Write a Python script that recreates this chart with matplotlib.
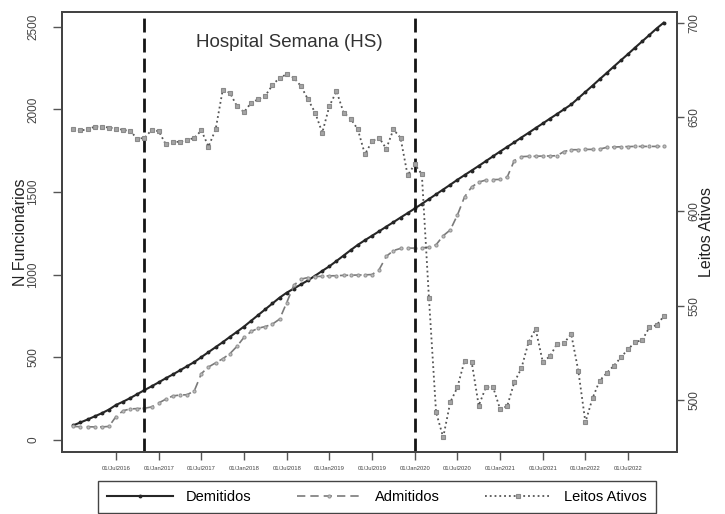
import numpy as np
import matplotlib
matplotlib.use("Agg")
import matplotlib.pyplot as plt

plt.rcParams["font.family"] = ["Liberation Sans", "DejaVu Sans"]

# monthly series, Jan/2016 .. Dec/2022
demitidos = [87, 104, 122, 141, 160, 182, 210, 230, 252, 276,
             300, 323, 347, 372, 395, 420, 445, 470, 500, 530,
             560, 590, 622, 653, 685, 720, 755, 790, 825, 860,
             890, 915, 940, 965, 993, 1022, 1050, 1082, 1115, 1148,
             1180, 1208, 1235, 1262, 1290, 1317, 1345, 1372, 1400, 1428,
             1457, 1486, 1515, 1544, 1574, 1602, 1630, 1658, 1687, 1716,
             1745, 1773, 1801, 1830, 1858, 1887, 1915, 1944, 1972, 2001,
             2030, 2068, 2106, 2144, 2183, 2221, 2260, 2298, 2336, 2375,
             2413, 2451, 2490, 2525]

admitidos = [80, 78, 78, 77, 77, 80, 140, 175, 186, 188,
             190, 198, 222, 245, 265, 270, 272, 295, 400, 440,
             465, 490, 520, 565, 620, 655, 675, 685, 700, 730,
             830, 935, 972, 982, 987, 990, 992, 993, 995, 996,
             997, 998, 1000, 1030, 1110, 1145, 1158, 1160, 1160, 1162,
             1165, 1180, 1235, 1270, 1360, 1470, 1530, 1560, 1572, 1575,
             1576, 1590, 1690, 1714, 1716, 1716, 1718, 1718, 1720, 1745,
             1756, 1756, 1758, 1758, 1760, 1770, 1772, 1774, 1775, 1776,
             1776, 1776, 1776, 1776]

leitos = [644, 643, 643.5, 645, 645, 644.5, 644, 643.3, 642.6, 638.6,
          639, 643.2, 642.6, 635.6, 636.8, 637, 637.9, 639, 643, 634.4,
          643.5, 664.4, 663, 655.9, 652.7, 657.7, 659.5, 661.5, 667, 671,
          672.7, 671, 666.5, 659.4, 652.4, 641.8, 655.9, 663.8, 652.4, 649.2,
          643.5, 630.3, 637.3, 639.1, 633.3, 643.5, 639.1, 619.2, 625, 619.7,
          554, 493.5, 480.2, 498.8, 506.7, 520.8, 520.3, 497, 506.7, 507,
          495.2, 496.7, 509.4, 516.8, 530.6, 537.6, 520.3, 523.1, 529.7, 530.2,
          535, 515.5, 488.2, 500.9, 510.2, 514.3, 518.2, 522.6, 527, 530.6,
          531.9, 538.5, 539.7, 544.3]

month = np.arange(len(demitidos))
tick_months = [6, 12, 18, 24, 30, 36, 42, 48, 54, 60, 66, 72, 78]
tick_labels = ["01/Jul2016", "01/Jan2017", "01/Jul2017", "01/Jan2018",
               "01/Jul2018", "01/Jan2019", "01/Jul2019", "01/Jan2020",
               "01/Jul2020", "01/Jan2021", "01/Jul2021", "01/Jan2022",
               "01/Jul2022"]
event_months = [9.9, 48]

fig = plt.figure(figsize=(7.25, 5.14), dpi=100)
ax = fig.add_axes([0.0855, 0.1206, 0.8485, 0.856])
ax2 = ax.twinx()

l1, = ax.plot(month, demitidos, "-", color="#262626", lw=1.5,
              marker="o", markersize=1.8, label="Demitidos")
l2, = ax.plot(month, admitidos, "--", color="#7a7a7a", lw=1.2,
              dashes=(5, 3), marker="o", markersize=2.2,
              markerfacecolor="#c0c0c0", markeredgecolor="#959595",
              markeredgewidth=0.8, label="Admitidos")
l3, = ax2.plot(month, leitos, ":", color="#555555", lw=1.3,
               marker="s", markersize=2.3,
               markerfacecolor="#a5a5a5", markeredgecolor="#8a8a8a",
               markeredgewidth=0.8, label="Leitos Ativos")

for m in event_months:
    ax.axvline(m, color="#151515", lw=2.0, ls=(0, (5, 2.2)))

ax.set_xlim(-1.6, 84.9)
ax.set_ylim(-75, 2590)
ax2.set_ylim(472.4, 705.8)

ax.set_yticks([0, 500, 1000, 1500, 2000, 2500])
ax2.set_yticks([500, 550, 600, 650, 700])
ax.set_xticks(tick_months)
ax.set_xticklabels(tick_labels, fontsize=4.2, color="#444444")

ax.tick_params(axis="y", labelsize=8.5, length=6.5, width=1,
               colors="#555555", labelcolor="#444444", pad=10)
ax2.tick_params(axis="y", labelsize=8.5, length=5, width=1,
                colors="#555555", labelcolor="#444444", pad=3)
for a in (ax, ax2):
    for lab in a.get_yticklabels():
        lab.set_rotation(90)
        lab.set_va("center")
    for s in a.spines.values():
        s.set_linewidth(1.4)
        s.set_color("#444444")
ax.tick_params(axis="x", length=6, width=1, colors="#555555",
               labelcolor="#444444", pad=4)

ax.set_ylabel("N Funcionários", fontsize=11.5, color="#222222")
ax2.set_ylabel("Leitos Ativos", fontsize=11.5, color="#222222",
               rotation=90)
ax.yaxis.set_label_coords(-0.055, 0.5)
ax2.yaxis.set_label_coords(1.036, 0.5)

ax.text(30.3, 2405, "Hospital Semana (HS)", fontsize=13.5,
        color="#333333", ha="center", va="center")

fig.legend(handles=[l1, l2, l3], loc="lower center",
           bbox_to_anchor=(0.52, -0.012), ncol=3, fontsize=10.5,
           handlelength=4.5, columnspacing=3.1, handletextpad=0.9,
           fancybox=False, edgecolor="#444444", framealpha=1,
           borderpad=0.6)

fig.savefig("out.png", dpi=100)
